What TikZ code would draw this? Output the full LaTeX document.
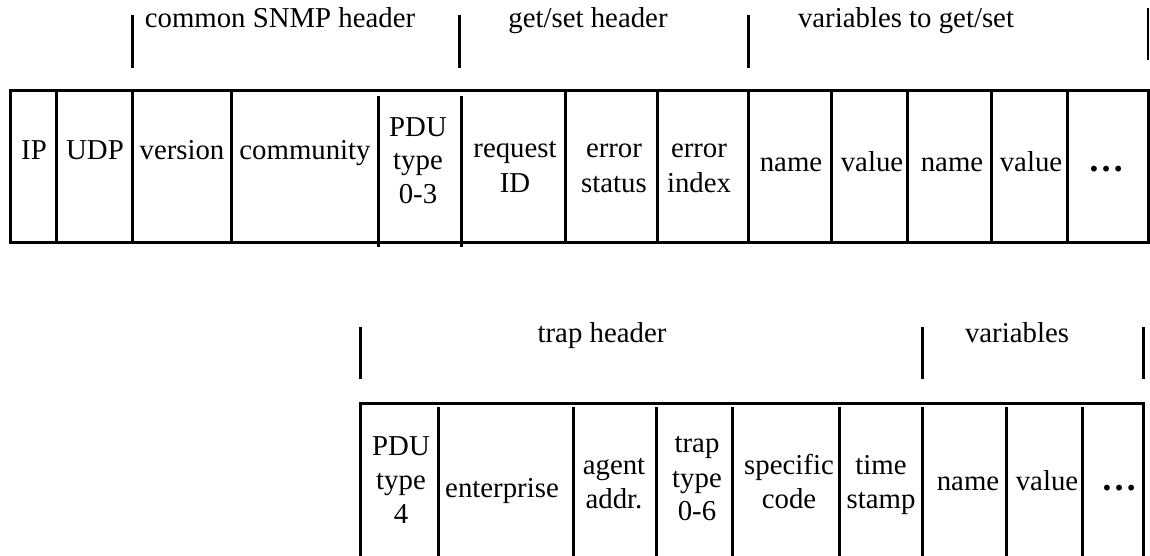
\documentclass[tikz,border=0pt]{standalone}
\usepackage{fontspec}
\setmainfont{Liberation Serif}
\tikzset{
  txt/.style={inner sep=0pt, anchor=base, font=\fontsize{21.6}{25}\selectfont},
  dots/.style={inner sep=0pt, anchor=base, font=\fontsize{27}{30}\selectfont\bfseries},
  rule/.style={line width=2.25pt},
  thinrule/.style={line width=1.6pt}
}
\begin{document}
\begin{tikzpicture}[x=0.75pt,y=-0.75pt]
\clip (0,0) rectangle (1150,556);
\fill[white] (0,0) rectangle (1150,556);
% ---------- top: get/set PDU ----------
\draw[rule] (10,91) rectangle (1148,243);
\foreach \x in {56,132,231,565,657,748,831,907,991,1067}
  \draw[rule] (\x,91) -- (\x,243);
\foreach \x in {378,461}
  \draw[rule] (\x,96) -- (\x,247);
\foreach \x in {132,459,748}
  \draw[rule] (\x,15) -- (\x,68);
\draw[thinrule] (1148,8) -- (1148,60);
\node[txt] (hcommon) at (280,28) {common SNMP header};
\node[txt] (hgetset) at (588,28) {get/set header};
\node[txt] (hvars) at (906,28) {variables to get/set};
\node[txt] (ip) at (34,160) {IP};
\node[txt] (udp) at (95,160) {UDP};
\node[txt] (version) at (182,160) {version};
\node[txt] (community) at (305,160) {community};
\node[txt] (pdu1) at (418,137) {PDU};
\node[txt] (pdu2) at (418,170) {type};
\node[txt] (pdu3) at (418,204) {0-3};
\node[txt] (req1) at (515,158) {request};
\node[txt] (req2) at (515,193) {ID};
\node[txt] (est1) at (614,158) {error};
\node[txt] (est2) at (614,193) {status};
\node[txt] (eix1) at (699,158) {error};
\node[txt] (eix2) at (699,193) {index};
\node[txt] (name1) at (791,172) {name};
\node[txt] (value1) at (872,172) {value};
\node[txt] (name2) at (952,172) {name};
\node[txt] (value2) at (1031,172) {value};
\node[dots] (dots1) at (1106,172) {\ldots};
% ---------- bottom: trap PDU ----------
\draw[rule] (360,560) -- (360,403) -- (1143,403) -- (1143,560);
\foreach \x in {438,573,656,732,839,922,1006,1082}
  \draw[rule] (\x,407) -- (\x,560);
\foreach \x in {360,922,1143}
  \draw[rule] (\x,327) -- (\x,379);
\node[txt] (htrap) at (602,342) {trap header};
\node[txt] (hvars2) at (1017,342) {variables};
\node[txt] (tpdu1) at (401,455) {PDU};
\node[txt] (tpdu2) at (401,489) {type};
\node[txt] (tpdu3) at (401,523) {4};
\node[txt] (ent) at (502,497) {enterprise};
\node[txt] (agt1) at (614,474) {agent};
\node[txt] (agt2) at (614,508) {addr.};
\node[txt] (tt1) at (697,452) {trap};
\node[txt] (tt2) at (697,487) {type};
\node[txt] (tt3) at (697,520) {0-6};
\node[txt] (spc1) at (789,474) {specific};
\node[txt] (spc2) at (789,508) {code};
\node[txt] (ts1) at (881,474) {time};
\node[txt] (ts2) at (881,508) {stamp};
\node[txt] (tname) at (968,490) {name};
\node[txt] (tvalue) at (1047,490) {value};
\node[dots] (dots2) at (1119,490) {\ldots};
\end{tikzpicture}
\end{document}
